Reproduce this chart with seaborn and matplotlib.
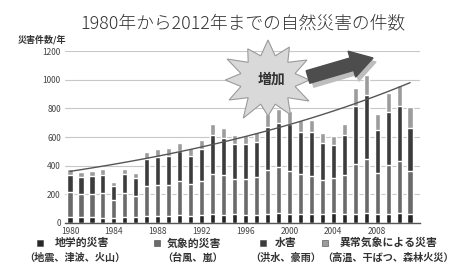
import numpy as np
import pandas as pd
import matplotlib
matplotlib.use("Agg")
import matplotlib.pyplot as plt
from matplotlib.patches import Polygon, Rectangle
import seaborn as sns

# ---------------- data ----------------
years = list(range(1980, 2012))
geo = [45, 40, 42, 38, 35, 45, 40, 50, 48, 52, 55, 50, 55, 60, 58, 60,
       55, 58, 62, 70, 60, 65, 60, 62, 68, 60, 65, 70, 60, 65, 70, 65]
met = [170, 165, 160, 170, 125, 165, 150, 210, 220, 215, 235, 220, 240, 285, 275, 250,
       255, 260, 310, 320, 300, 280, 270, 240, 245, 275, 350, 380, 290, 340, 360, 300]
hyd = [120, 115, 125, 130, 100, 130, 122, 185, 195, 200, 210, 200, 222, 270, 262, 240,
       240, 245, 300, 310, 330, 290, 305, 254, 230, 280, 400, 440, 300, 370, 385, 297]
clim = [40, 38, 36, 37, 28, 35, 35, 53, 54, 54, 60, 54, 62, 75, 71, 64,
        65, 69, 90, 95, 93, 84, 84, 70, 64, 74, 125, 143, 109, 130, 148, 150]
series_names = ["地学的災害", "気象的災害", "水害", "異常気象による災害"]
series_sub = ["（地震、津波、火山）", "（台風、嵐）", "（洪水、豪雨）", "（高温、干ばつ、森林火災）"]
title = "1980年から2012年までの自然災害の件数"
ylabel = "災害件数/年"
badge = "増加"

colors = ["#262626", "#6a6a6a", "#3c3c3c", "#9c9c9c"]

# ---------------- figure ----------------
sns.set_style("white")
plt.rcParams["font.family"] = ["Noto Sans CJK JP", "DejaVu Sans"]

W, H = 468, 266
fig = plt.figure(figsize=(W / 100, H / 100), dpi=100)
ax = fig.add_axes([65 / W, 1 - 223 / H, (420 - 65) / W, (223 - 51) / H])

df = pd.DataFrame({"year": [str(y) for y in years], "geo": geo, "met": met,
                   "hyd": hyd, "clim": clim})
layers = ["geo", "met", "hyd", "clim"]
cum = df[layers].cumsum(axis=1)
order = df["year"].tolist()
for i in range(len(layers) - 1, -1, -1):
    sns.barplot(x=df["year"], y=cum[layers[i]], color=colors[i], saturation=1,
                width=0.48, order=order, ax=ax, zorder=2)

# exponential trend line fitted to the totals
total = np.array(cum["clim"], dtype=float)
idx = np.arange(len(years))
k, b = np.polyfit(idx, np.log(total), 1)
ax.plot(idx, np.exp(b + k * idx), color="#555555", lw=1.0, zorder=4)

ax.set_ylim(0, 1200)
ax.set_xlim(-0.45, 31.9)
ax.set_yticks(range(0, 1201, 200))
ax.set_yticklabels([str(v) for v in range(0, 1201, 200)], fontsize=6, color="#444444")
ax.set_xticks(idx[::4])
ax.set_xticklabels([str(y) for y in years[::4]], fontsize=6, color="#444444")
ax.tick_params(axis="both", length=0, pad=3)
ax.yaxis.grid(True, color="#c8c8c8", lw=0.8, zorder=0)
ax.set_axisbelow(True)
ax.set_xlabel("")
ax.set_ylabel("")
for s in ["left", "right", "top"]:
    ax.spines[s].set_visible(False)
ax.spines["bottom"].set_color("#555555")
ax.spines["bottom"].set_linewidth(1.0)

# title and y label
fig.text(243 / W, 1 - 23 / H, title, ha="center", va="center", fontsize=12.8,
         color="#333333", fontweight="light")
fig.text(18 / W, 1 - 40 / H, ylabel, ha="left", va="center", fontsize=6.5,
         color="#333333", fontweight="bold")

# ---- decorations: starburst and arrow (pixel coordinates) ----
def px(x, y):
    return (x / 100, (H - y) / 100)

cx, cy = 268, 80
n = 12
pts = []
for j in range(2 * n):
    ang = np.pi / 2 + j * np.pi / n
    r = (45, 40) if j % 2 == 0 else (28, 25)
    jitter = [1.0, 0.9, 1.05, 0.95, 1.0, 1.1, 0.9, 1.0, 1.05, 0.92, 1.0, 0.95][j // 2]
    rr = (r[0] * (jitter if j % 2 == 0 else 1.0), r[1] * (jitter if j % 2 == 0 else 1.0))
    pts.append(px(cx + rr[0] * np.cos(ang), cy - rr[1] * np.sin(ang)))
star = Polygon(pts, closed=True, facecolor="#d9d9d9", edgecolor="#9a9a9a", lw=0.8,
               transform=fig.dpi_scale_trans, zorder=5)
fig.patches.append(star)
fig.text(272 / W, 1 - 80 / H, badge, ha="center", va="center", fontsize=10,
         fontweight="bold", color="#333333", zorder=6)

def block_arrow(x0, y0, x1, y1, tw, hw, hl, color, z):
    d = np.array([x1 - x0, y1 - y0], float)
    L = np.hypot(*d)
    u = d / L
    nrm = np.array([-u[1], u[0]])
    base = np.array([x0, y0])
    neck = base + u * (L - hl)
    tip = np.array([x1, y1])
    P = [base + nrm * tw / 2, neck + nrm * tw / 2, neck + nrm * hw / 2, tip,
         neck - nrm * hw / 2, neck - nrm * tw / 2, base - nrm * tw / 2]
    poly = Polygon([px(*p) for p in P], closed=True, facecolor=color,
                   edgecolor=color, transform=fig.dpi_scale_trans, zorder=z)
    fig.patches.append(poly)

block_arrow(312, 81, 376, 62, 13, 27, 22, "#bdbdbd", 5)
block_arrow(308, 77, 373, 58, 13, 27, 22, "#4d4d4d", 6)

# ---- legend (two rows) ----
mk_x = [40, 157, 263, 325]
tx_x = [55, 167, 275, 340]
sub_x = [24, 162, 250, 322]
for i in range(4):
    fig.patches.append(Rectangle(px(mk_x[i] - 3, 246), 6 / 100, 6 / 100,
                                 facecolor=colors[i], edgecolor="#444444", lw=0.4,
                                 transform=fig.dpi_scale_trans))
    fig.text(tx_x[i] / W, 1 - 243 / H, series_names[i], ha="left", va="center",
             fontsize=7.8, fontweight="bold", color="#333333")
    fig.text(sub_x[i] / W, 1 - 258 / H, series_sub[i], ha="left", va="center",
             fontsize=7.3, fontweight="bold", color="#333333")

fig.savefig("out.png", dpi=100)
